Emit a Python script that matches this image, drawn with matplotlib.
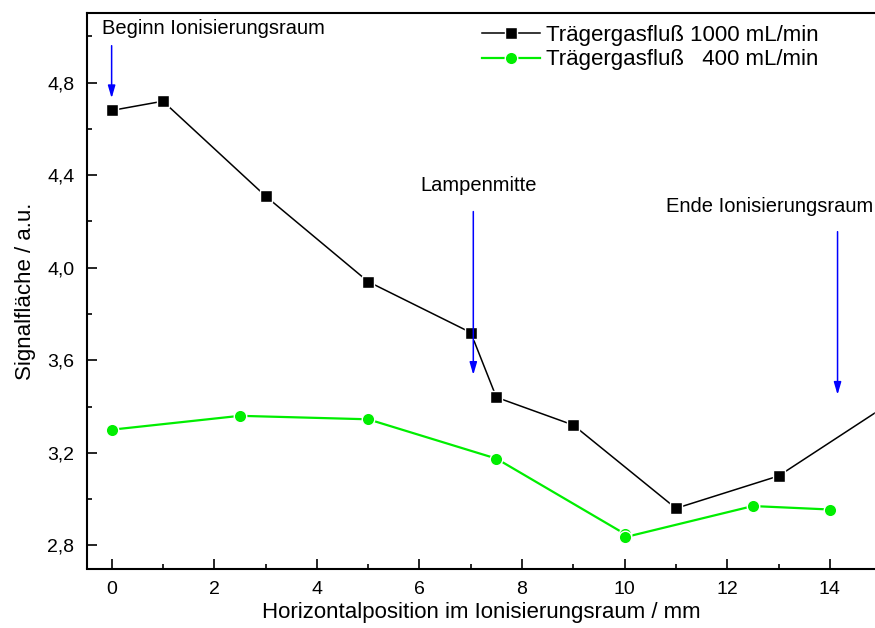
import matplotlib
matplotlib.use("Agg")
import matplotlib.pyplot as plt
from matplotlib.ticker import MultipleLocator, FuncFormatter

plt.rcParams['font.family'] = ['Liberation Sans', 'DejaVu Sans']

# Signal area vs. horizontal position, two carrier gas flows
x_1000 = [0, 1, 3, 5, 7, 7.5, 9, 11, 13, 15]
y_1000 = [4.68, 4.72, 4.31, 3.94, 3.72, 3.44, 3.32, 2.96, 3.10, 3.39]

x_400 = [0, 2.5, 5, 7.5, 10, 10, 12.5, 14]
y_400 = [3.30, 3.36, 3.345, 3.175, 2.85, 2.835, 2.97, 2.955]

label_1000 = "Trägergasfluß 1000 mL/min"
label_400 = "Trägergasfluß   400 mL/min"
xlabel = "Horizontalposition im Ionisierungsraum / mm"
ylabel = "Signalfläche / a.u."

# Position markers: (text, arrow x, text x, text y, arrow top, arrow tip)
markers = [
    ("Beginn Ionisierungsraum", 0.0, -0.19, 5.036, 4.96, 4.733),
    ("Lampenmitte", 7.05, 6.025, 4.354, 4.243, 3.537),
    ("Ende Ionisierungsraum", 14.15, 10.80, 4.264, 4.156, 3.451),
]

fig = plt.figure(figsize=(8.75, 6.28), dpi=100)
ax = fig.add_axes([87 / 875, 1 - 568.5 / 628, 1 - 87 / 875, (568.5 - 13.3) / 628])

ax.plot(x_1000, y_1000, color='black', lw=1.1, marker='s', ms=8.2,
        mfc='black', mec='white', mew=1.0, label=label_1000)
ax.plot(x_400, y_400, color='#00ee00', lw=1.6, marker='o', ms=9.0,
        mfc='#00ee00', mec='white', mew=1.0, label=label_400)

ax.set_xlim(-0.48, 14.88)
ax.set_ylim(2.70, 5.10)

ax.xaxis.set_major_locator(MultipleLocator(2))
ax.xaxis.set_minor_locator(MultipleLocator(1))
ax.yaxis.set_major_locator(MultipleLocator(0.4))
ax.yaxis.set_minor_locator(MultipleLocator(0.2))
ax.yaxis.set_major_formatter(FuncFormatter(lambda v, p: f"{v:.1f}".replace('.', ',')))

ax.tick_params(which='both', direction='in', width=1.2, top=False, right=False)
ax.tick_params(which='major', length=7.2, labelsize=14, pad=9)
ax.tick_params(which='minor', length=3.6)

for side in ('left', 'bottom', 'top'):
    ax.spines[side].set_linewidth(1.5)
ax.spines['right'].set_visible(False)

ax.set_xlabel(xlabel, fontsize=16, labelpad=3)
ax.set_ylabel(ylabel, fontsize=16, labelpad=8)

for text, xa, xt, yt, ytop, ytip in markers:
    ax.text(xt, yt, text, fontsize=14.5, ha='left', va='center', clip_on=False)
    ax.annotate("", xy=(xa, ytip), xytext=(xa, ytop),
                arrowprops=dict(arrowstyle='-|>,head_length=0.75,head_width=0.22',
                                color='#0000ff', lw=1.1, shrinkA=0, shrinkB=0,
                                mutation_scale=10))

leg = ax.legend(loc='upper left', bbox_to_anchor=(0.49, 0.995), frameon=False,
                fontsize=16, handlelength=2.6, handletextpad=0.3,
                labelspacing=0.15, borderaxespad=0)

fig.savefig("out.png", dpi=100)
